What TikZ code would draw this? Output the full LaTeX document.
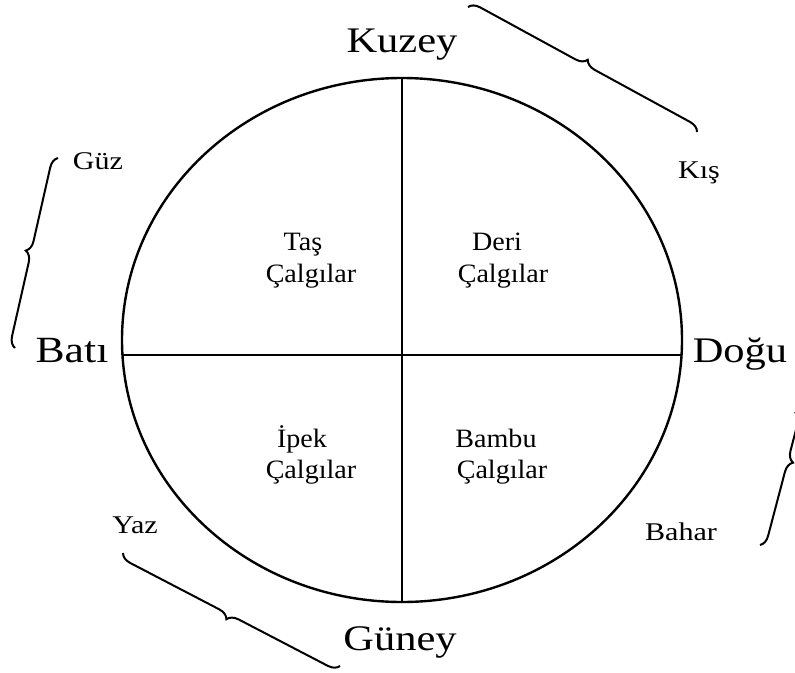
\documentclass[tikz,border=0pt]{standalone}
\usepackage{fontspec}
\setmainfont{Liberation Serif}
\usetikzlibrary{decorations.pathreplacing}
\newcommand{\sxw}[1]{\scalebox{1.18}[1]{#1}}
\newcommand{\sxi}[1]{\scalebox{1.06}[1]{#1}}
\begin{document}
\begin{tikzpicture}[x=1pt,y=-1pt,
  big/.style={font=\fontsize{36}{40}\selectfont, inner sep=0pt, anchor=base},
  small/.style={font=\fontsize{25.5}{28}\selectfont, inner sep=0pt, anchor=base},
  inner/.style={font=\fontsize{26.5}{30}\selectfont, inner sep=0pt, anchor=base},
  bracestyle/.style={line width=2pt, decorate, decoration={brace, amplitude=11pt}}]
\useasboundingbox (0,0) rectangle (795,672);
\draw[line width=2.4pt] (402,340) ellipse [x radius=280, y radius=262];
\coordinate (cl) at (122.5,355);
\coordinate (cr) at (681.5,355);
\coordinate (ct) at (402,78);
\coordinate (cb) at (402,602);
\draw[line width=2pt] (cl) -- (cr);
\draw[line width=2pt] (ct) -- (cb);
% direction labels
\node[big] (kuzey) at (402,52) {\sxw{Kuzey}};
\node[big] (bati) at (72,362) {\sxw{\fontsize{37}{40}\selectfont Batı}};
\node[big] (dogu) at (740,362) {\sxw{Doğu}};
\node[big] (guney) at (400,650) {\sxw{Güney}};
% seasons
\node[small] (guz) at (98,169) {\sxw{Güz}};
\node[small] (kis) at (699,178) {\sxw{Kış}};
\node[small] (yaz) at (135,533) {\sxw{Yaz}};
\node[small] (bahar) at (681,540) {\sxw{Bahar}};
% inner labels
\node[inner] (tas1) at (303,250) {\sxi{Taş}};
\node[inner] (tas2) at (311,282) {\sxi{Çalgılar}};
\node[inner] (deri1) at (497,250) {\sxi{Deri}};
\node[inner] (deri2) at (503,282) {\sxi{Çalgılar}};
\node[inner] (ipek1) at (302,447) {\sxi{İpek}};
\node[inner] (ipek2) at (311,478) {\sxi{Çalgılar}};
\node[inner] (bambu1) at (496,447) {\sxi{Bambu}};
\node[inner] (bambu2) at (502,478) {\sxi{Çalgılar}};
% braces
\coordinate (b1a) at (468,7);
\coordinate (b1b) at (697,132);
\draw[bracestyle] (b1a) -- (b1b);
\coordinate (b2a) at (15,348);
\coordinate (b2b) at (58,158);
\draw[bracestyle] (b2a) -- (b2b);
\coordinate (b3a) at (795,412);
\coordinate (b3b) at (760,545);
\draw[line width=2pt, decorate, decoration={brace, amplitude=11pt, aspect=0.36}] (b3a) -- (b3b);
\coordinate (b4a) at (340,666);
\coordinate (b4b) at (123,553);
\draw[bracestyle] (b4a) -- (b4b);
\end{tikzpicture}
\end{document}
